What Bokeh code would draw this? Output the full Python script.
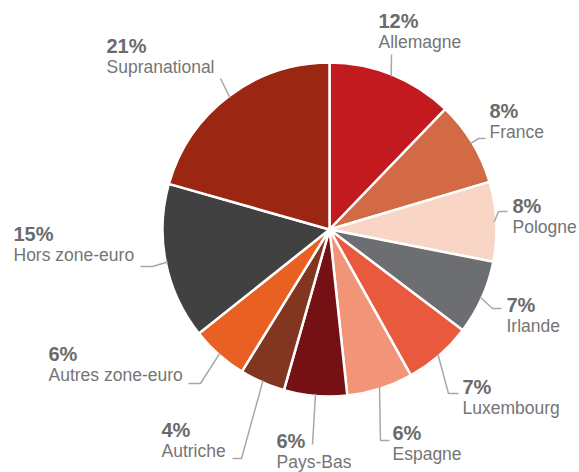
import numpy as np
from bokeh.plotting import figure
from bokeh.models import Range1d, ColumnDataSource
from bokeh.core.properties import value
from bokeh.embed import file_html
from bokeh.resources import INLINE

# ---- data (clockwise from 12 o'clock) ----
categories = ["Allemagne", "France", "Pologne", "Irlande", "Luxembourg", "Espagne",
              "Pays-Bas", "Autriche", "Autres zone-euro", "Hors zone-euro", "Supranational"]
shares = [12.2, 8.2, 7.7, 7.2, 6.6, 6.4, 6.1, 4.4, 5.5, 15.1, 20.6]
pct_labels = ["12%", "8%", "8%", "7%", "7%", "6%", "6%", "4%", "6%", "15%", "21%"]
colors = ["#C21A1F", "#D26B45", "#F8D5C5", "#6D6E71", "#E8593D", "#F19478",
          "#751014", "#823620", "#E86022", "#414141", "#9B2612"]

# ---- layout (pixel coordinates, y measured from top) ----
W, H = 579, 472
CX, CY, R = 329, 229, 167
TEXT_SHIFT = -7
label_x = [378, 489, 512, 506, 462, 392, 276, 161, 48, 13, 106]
label_base = [27, 117, 212, 311, 393, 439, 447, 436, 360, 240, 52]
# leader points after the pie-edge point: list of (x, y)
leaders = [
    [(391, 54)],
    [(478, 138), (485, 138)],
    [(498, 211), (507, 211)],
    [(492, 308), (501, 308)],
    [(448, 393), (458, 393)],
    [(380, 440), (389, 440)],
    [(312, 444)],
    [(241, 458), (232, 458)],
    [(200, 383), (188, 383)],
    [(152, 266), (140, 266)],
    [(220, 78)],
]

def fy(y):
    return H - y

fr = np.array(shares) / sum(shares)
cum_end = np.cumsum(fr)
cum_start = cum_end - fr
start_angle = np.pi / 2 - 2 * np.pi * cum_end
end_angle = np.pi / 2 - 2 * np.pi * cum_start
mid = (start_angle + end_angle) / 2

p = figure(width=W, height=H, output_backend="svg", toolbar_location=None,
           x_range=Range1d(0, W), y_range=Range1d(0, H),
           x_axis_type=None, y_axis_type=None, min_border=0)
p.grid.visible = False
p.outline_line_color = None
p.background_fill_color = "white"

src = ColumnDataSource(dict(start=start_angle, end=end_angle, color=colors, cat=categories))
p.wedge(x=CX, y=fy(CY), radius=R, start_angle="start", end_angle="end",
        direction="anticlock", fill_color="color", line_color="white", line_width=2.5,
        source=src)

# leader lines
for i, pts in enumerate(leaders):
    ex = CX + (R - 2) * np.cos(mid[i])
    ey = fy(CY) + (R - 2) * np.sin(mid[i])
    xs = [ex] + [q[0] for q in pts]
    ys = [ey] + [fy(q[1]) for q in pts]
    p.line(xs, ys, line_color="#A8A8A8", line_width=1.5)

tsrc = ColumnDataSource(dict(
    x=label_x,
    yp=[fy(b + TEXT_SHIFT) for b in label_base],
    yn=[fy(b + 21 + TEXT_SHIFT) for b in label_base],
    pct=pct_labels, name=categories))
p.text(x="x", y="yp", text="pct", source=tsrc, text_font=value("Liberation Sans"),
       text_font_size="20px", text_font_style="bold", text_color="#6B6B6B",
       text_baseline="alphabetic", text_align="left")
p.text(x="x", y="yn", text="name", source=tsrc, text_font=value("Liberation Sans"),
       text_font_size="17.5px", text_color="#757575",
       text_baseline="alphabetic", text_align="left")

open("out.html", "w").write(file_html(p, INLINE))
